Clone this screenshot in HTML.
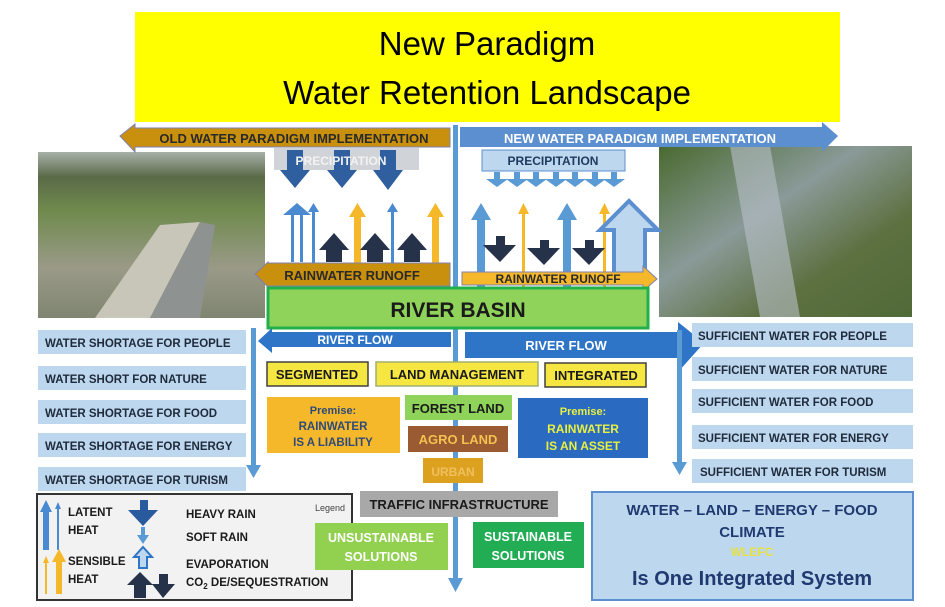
<!DOCTYPE html>
<html><head><meta charset="utf-8"><style>
html,body{margin:0;padding:0;background:#fff;}
svg{display:block;}
text{font-family:"Liberation Sans",sans-serif;font-weight:bold;}
</style></head><body>
<svg width="945" height="607" viewBox="0 0 945 607" xmlns="http://www.w3.org/2000/svg">
<defs>
<linearGradient id="ph1" x1="0" y1="0" x2="0" y2="1">
<stop offset="0" stop-color="#a8b0a8"/><stop offset="0.15" stop-color="#5a6a48"/><stop offset="0.35" stop-color="#6f8a4c"/><stop offset="0.7" stop-color="#9a9a88"/><stop offset="1" stop-color="#7f8570"/></linearGradient>
<linearGradient id="ph2" x1="0" y1="0" x2="1" y2="1">
<stop offset="0" stop-color="#4a6a30"/><stop offset="0.4" stop-color="#8a9a98"/><stop offset="0.7" stop-color="#5d7040"/><stop offset="1" stop-color="#506a38"/></linearGradient>
</defs>
<!-- title -->
<rect x="135" y="12" width="705" height="110" fill="#ffff00"/>
<text x="487" y="55" font-size="33" text-anchor="middle" style="font-weight:normal" fill="#000">New Paradigm</text>
<text x="487" y="104" font-size="33" text-anchor="middle" style="font-weight:normal" fill="#000">Water Retention Landscape</text>

<!-- photos -->
<rect x="38" y="152" width="227" height="166" fill="url(#ph1)"/>
<polygon points="95,318 160,225 200,222 150,318" fill="#c8c6b8"/>
<polygon points="150,318 200,222 215,225 200,318" fill="#8e9290"/>
<rect x="659" y="146" width="253" height="171" fill="url(#ph2)"/>
<polygon points="730,146 770,146 800,317 760,317" fill="#b8c0c8" opacity="0.6"/>

<!-- center line -->
<rect x="453" y="125" width="5" height="455" fill="#5b9bd5"/>
<polygon points="448,578 463,578 455.5,592" fill="#5b9bd5"/>

<!-- paradigm arrows -->
<polygon points="120,136 135,124 135,128 450,128 450,147 135,147 135,152" fill="#c8900c" stroke="#7f7fb0" stroke-width="1"/>
<text x="294" y="143" font-size="13" text-anchor="middle" fill="#2a2a2a">OLD WATER PARADIGM IMPLEMENTATION</text>
<polygon points="460,127 822,127 822,122 838,136 822,152 822,147 460,147" fill="#5b8fd0"/>
<text x="640" y="143" font-size="13" text-anchor="middle" fill="#fff">NEW WATER PARADIGM IMPLEMENTATION</text>

<!-- precipitation left -->
<rect x="274" y="148" width="145" height="22" fill="#d0d4d8"/>
<g fill="#2f5f9e">
<polygon points="280,170 310,170 295,188"/><rect x="287" y="150" width="16" height="20"/>
<polygon points="327,170 357,170 342,188"/><rect x="334" y="150" width="16" height="20"/>
<polygon points="373,170 403,170 388,190"/><rect x="380" y="150" width="16" height="20"/>
</g>
<text x="341" y="165" font-size="12" text-anchor="middle" fill="#f2f2f2">PRECIPITATION</text>
<g fill="#4a8ad0">
<polygon points="283,215 297,203 311,215 303,215 303,262 291,262 291,215"/>
<rect x="312" y="210" width="3" height="90"/><polygon points="308,212 313.5,203 319,212"/>
<rect x="391" y="210" width="3" height="90"/><polygon points="387,212 392.5,203 398,212"/>
</g>
<rect x="294" y="215" width="6" height="47" fill="#fff"/>
<g fill="#f5b82a">
<rect x="354" y="215" width="7" height="90"/><polygon points="349,217 357.5,203 366,217"/>
<rect x="432" y="215" width="7" height="90"/><polygon points="427,217 435.5,203 444,217"/>
</g>
<g fill="#26324a">
<polygon points="319,250 334,233 349,250 342,250 342,262 326,262 326,250"/>
<polygon points="360,250 375,233 390,250 383,250 383,262 367,262 367,250"/>
<polygon points="397,250 412,233 427,250 420,250 420,262 404,262 404,250"/>
</g>
<polygon points="255,274 268,262 268,263 450,263 450,286 268,286 268,287" fill="#c8900c" stroke="#7f7fb0" stroke-width="1"/>
<text x="352" y="280" font-size="13" text-anchor="middle" fill="#2a2a2a">RAINWATER RUNOFF</text>

<!-- precipitation right -->
<rect x="482" y="150" width="143" height="21" fill="#bdd7ee" stroke="#5b8fd0"/>
<text x="553" y="165" font-size="12" text-anchor="middle" fill="#1f3a60">PRECIPITATION</text>
<g fill="#5b9bd5">
<polygon points="486,179 494,179 494,172 500,172 500,179 508,179 497,187"/>
<polygon points="506,179 514,179 514,172 520,172 520,179 528,179 517,187"/>
<polygon points="525,179 533,179 533,172 539,172 539,179 547,179 536,187"/>
<polygon points="545,179 553,179 553,172 559,172 559,179 567,179 556,187"/>
<polygon points="564,179 572,179 572,172 578,172 578,179 586,179 575,187"/>
<polygon points="584,179 592,179 592,172 598,172 598,179 606,179 595,187"/>
<polygon points="603,179 611,179 611,172 617,172 617,179 625,179 614,187"/>
</g>
<g fill="#5b9bd5">
<rect x="477" y="218" width="8" height="96"/><polygon points="471,220 481,203 491,220"/>
<rect x="563" y="218" width="8" height="96"/><polygon points="557,220 567,203 577,220"/>
</g>
<g fill="#f5b82a">
<rect x="522" y="212" width="3" height="100"/><polygon points="518,214 523.5,203 529,214"/>
<rect x="603" y="212" width="3" height="100"/><polygon points="599,214 604.5,203 610,214"/>
</g>
<polygon points="600,230 629,201 658,230 645,230 645,275 614,275 614,230" fill="#bdd7ee" stroke="#5b8fd0" stroke-width="4"/>
<g fill="#26324a">
<polygon points="483,245 496,245 496,236 505,236 505,245 516,245 500,262"/>
<polygon points="527,248 540,248 540,240 549,240 549,248 560,248 544,265"/>
<polygon points="572,248 585,248 585,240 594,240 594,248 605,248 589,265"/>
</g>
<polygon points="462,272 643,272 643,266 657,279 643,291 643,285 462,285" fill="#f5b82a" stroke="#7f7fb0" stroke-width="1"/>
<text x="558" y="283" font-size="12" text-anchor="middle" fill="#2a2a2a">RAINWATER RUNOFF</text>

<!-- river basin -->
<rect x="268" y="288" width="380" height="40" fill="#8fd35a" stroke="#22b04a" stroke-width="3"/>
<text x="458" y="317" font-size="21" text-anchor="middle" fill="#1a1a1a">RIVER BASIN</text>

<!-- river flows -->
<polygon points="258,341 272,328 272,332 451,332 451,347 272,347 272,353" fill="#2e75c8"/>
<text x="355" y="344" font-size="12" text-anchor="middle" fill="#fff">RIVER FLOW</text>
<polygon points="465,332 678,332 678,322 704,343 678,372 678,358 465,358" fill="#2e75c8"/>
<text x="566" y="350" font-size="13" text-anchor="middle" fill="#fff">RIVER FLOW</text>

<rect x="251" y="328" width="5" height="140" fill="#5b9bd5"/><polygon points="246,465 261,465 253.5,478" fill="#5b9bd5"/>
<rect x="677" y="330" width="5" height="135" fill="#5b9bd5"/><polygon points="672,462 687,462 679.5,475" fill="#5b9bd5"/>

<g fill="#bdd7ee">
<rect x="38" y="330" width="208" height="24"/><rect x="38" y="366" width="208" height="24"/>
<rect x="38" y="400" width="208" height="24"/><rect x="38" y="433" width="208" height="24"/>
<rect x="38" y="467" width="208" height="24"/>
</g>
<g font-size="11.5" fill="#1f2a3a">
<text x="45" y="347">WATER SHORTAGE FOR PEOPLE</text>
<text x="45" y="383">WATER SHORT FOR NATURE</text>
<text x="45" y="417">WATER SHORTAGE FOR FOOD</text>
<text x="45" y="450">WATER SHORTAGE FOR ENERGY</text>
<text x="45" y="484">WATER SHORTAGE FOR TURISM</text>
</g>
<g fill="#bdd7ee">
<rect x="692" y="323" width="221" height="24"/><rect x="692" y="357" width="221" height="24"/>
<rect x="692" y="389" width="221" height="24"/><rect x="692" y="425" width="221" height="24"/>
<rect x="692" y="459" width="221" height="24"/>
</g>
<g font-size="11.5" fill="#1f2a3a">
<text x="698" y="340">SUFFICIENT WATER FOR PEOPLE</text>
<text x="698" y="374">SUFFICIENT WATER FOR NATURE</text>
<text x="698" y="406">SUFFICIENT WATER FOR FOOD</text>
<text x="698" y="442">SUFFICIENT WATER FOR ENERGY</text>
<text x="700" y="476">SUFFICIENT WATER FOR TURISM</text>
</g>

<rect x="267" y="362" width="101" height="24" fill="#f5e642" stroke="#404040" stroke-width="1.5"/>
<text x="317" y="379" font-size="13" text-anchor="middle" fill="#1a1a1a">SEGMENTED</text>
<rect x="376" y="362" width="162" height="24" fill="#f5e642" stroke="#a0b070" stroke-width="1.5"/>
<text x="457" y="379" font-size="13" text-anchor="middle" fill="#1a1a1a">LAND MANAGEMENT</text>
<rect x="545" y="363" width="101" height="24" fill="#f5e642" stroke="#404040" stroke-width="1.5"/>
<text x="596" y="380" font-size="13" text-anchor="middle" fill="#1a1a1a">INTEGRATED</text>

<rect x="267" y="397" width="133" height="56" fill="#f5b82a"/>
<text x="333" y="414" font-size="11" text-anchor="middle" fill="#2e4a7a">Premise:</text>
<text x="333" y="430" font-size="11.5" text-anchor="middle" fill="#2e4a7a">RAINWATER</text>
<text x="333" y="446" font-size="11.5" text-anchor="middle" fill="#2e4a7a">IS A LIABILITY</text>
<rect x="405" y="395" width="107" height="25" fill="#8fd35a"/>
<text x="458" y="413" font-size="13" text-anchor="middle" fill="#1a1a1a">FOREST LAND</text>
<rect x="408" y="426" width="100" height="26" fill="#9a5a32"/>
<text x="458" y="444" font-size="13" text-anchor="middle" fill="#f5c050">AGRO  LAND</text>
<rect x="518" y="398" width="130" height="60" fill="#2a6ac0"/>
<text x="583" y="415" font-size="11" text-anchor="middle" fill="#e8f040">Premise:</text>
<text x="583" y="433" font-size="12" text-anchor="middle" fill="#e8f040">RAINWATER</text>
<text x="583" y="450" font-size="12" text-anchor="middle" fill="#e8f040">IS AN ASSET</text>
<rect x="423" y="458" width="60" height="25" fill="#dca11e"/>
<text x="453" y="476" font-size="12" text-anchor="middle" fill="#f0c060">URBAN</text>

<!-- legend (drawn first, so overlapped by unsustainable box) -->
<rect x="37" y="494" width="315" height="106" fill="#f2f2f2" stroke="#333" stroke-width="2"/>
<text x="330" y="511" font-size="9" text-anchor="middle" fill="#444" style="font-weight:normal">Legend</text>
<rect x="43" y="510" width="6" height="40" fill="#4a8ad0"/><polygon points="40,512 46,500 52,512" fill="#4a8ad0"/>
<rect x="57" y="508" width="2" height="42" fill="#4a8ad0"/><polygon points="55,509 58,502 61,509" fill="#4a8ad0"/>
<rect x="45" y="562" width="2" height="32" fill="#f5b82a"/><polygon points="43,563 46,556 49,563" fill="#f5b82a"/>
<rect x="56" y="560" width="6" height="34" fill="#f5b82a"/><polygon points="52,562 59,549 66,562" fill="#f5b82a"/>
<g font-size="11.5" fill="#1a1a1a">
<text x="68" y="516">LATENT</text><text x="68" y="534">HEAT</text>
<text x="68" y="565">SENSIBLE</text><text x="68" y="583">HEAT</text>
<text x="186" y="518">HEAVY RAIN</text>
<text x="186" y="541">SOFT RAIN</text>
<text x="186" y="568">EVAPORATION</text>
<text x="186" y="586">CO<tspan font-size="8" dy="3">2</tspan><tspan dy="-3"> DE/SEQUESTRATION</tspan></text>
</g>
<polygon points="128,510 140,510 140,500 148,500 148,510 158,510 143,526" fill="#2a5a9e"/>
<polygon points="137,535 141,535 141,527 145,527 145,535 149,535 143,544" fill="#5b9bd5"/>
<polygon points="134,557 143,547 152,557 147,557 147,568 139,568 139,557" fill="#bdd7ee" stroke="#2e75c8" stroke-width="2"/>
<polygon points="127,585 140,572 153,585 146,585 146,598 134,598 134,585" fill="#26324a"/>
<polygon points="152,584 159,584 159,574 168,574 168,584 175,584 163,598" fill="#26324a"/>

<rect x="360" y="491" width="198" height="26" fill="#a8a8a8"/>
<text x="459" y="509" font-size="13" text-anchor="middle" fill="#1a1a1a">TRAFFIC INFRASTRUCTURE</text>
<rect x="315" y="523" width="133" height="47" fill="#92d050"/>
<text x="381" y="542" font-size="12.5" text-anchor="middle" fill="#fff">UNSUSTAINABLE</text>
<text x="381" y="561" font-size="12.5" text-anchor="middle" fill="#fff">SOLUTIONS</text>
<rect x="473" y="522" width="111" height="46" fill="#22ad55"/>
<text x="528" y="541" font-size="12.5" text-anchor="middle" fill="#fff">SUSTAINABLE</text>
<text x="528" y="560" font-size="12.5" text-anchor="middle" fill="#fff">SOLUTIONS</text>

<!-- WLEFC -->
<rect x="592" y="492" width="321" height="108" fill="#bdd7ee" stroke="#5b8fd0" stroke-width="2"/>
<text x="752" y="515" font-size="15" text-anchor="middle" fill="#1f3a70">WATER – LAND – ENERGY – FOOD</text>
<text x="752" y="537" font-size="15" text-anchor="middle" fill="#1f3a70">CLIMATE</text>
<text x="752" y="556" font-size="12" text-anchor="middle" fill="#e8e040">WLEFC</text>
<text x="752" y="585" font-size="20" text-anchor="middle" fill="#1f3a70">Is One Integrated System</text>
</svg>
</body></html>
